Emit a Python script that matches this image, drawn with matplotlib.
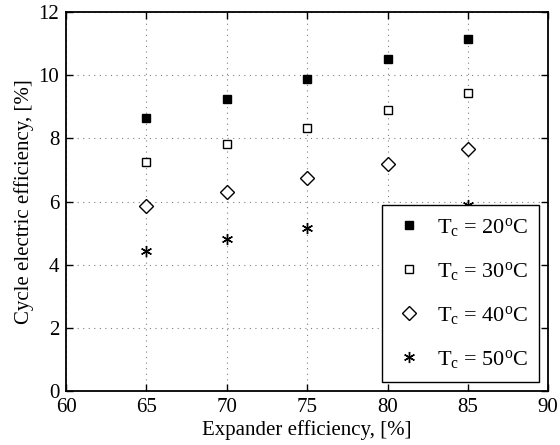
import matplotlib
matplotlib.use('Agg')
import matplotlib.pyplot as plt

plt.rcParams['font.family'] = ['Liberation Serif', 'DejaVu Serif']
plt.rcParams['mathtext.fontset'] = 'custom'
plt.rcParams['mathtext.rm'] = 'Liberation Serif'
plt.rcParams['mathtext.it'] = 'Liberation Serif:italic'

expander_eff = [65, 70, 75, 80, 85]
eff_20 = [8.63, 9.26, 9.89, 10.50, 11.16]
eff_30 = [7.26, 7.81, 8.34, 8.89, 9.43]
eff_40 = [5.86, 6.31, 6.76, 7.20, 7.68]
eff_50 = [4.45, 4.80, 5.16, 5.52, 5.88]
labels = [r'T$_\mathrm{c}$ = 20$^\mathrm{o}$C',
          r'T$_\mathrm{c}$ = 30$^\mathrm{o}$C',
          r'T$_\mathrm{c}$ = 40$^\mathrm{o}$C',
          r'T$_\mathrm{c}$ = 50$^\mathrm{o}$C']


def main():
    fig = plt.figure(figsize=(5.6, 4.45), dpi=100)
    ax = fig.add_axes([0.118, 0.121, 0.861, 0.852])

    ax.plot(expander_eff, eff_20, 's', color='black', markersize=6,
            linestyle='none', label=labels[0])
    ax.plot(expander_eff, eff_30, 's', markerfacecolor='white',
            markeredgecolor='black', markersize=6, linestyle='none',
            label=labels[1])
    ax.plot(expander_eff, eff_40, 'D', markerfacecolor='white',
            markeredgecolor='black', markersize=7, linestyle='none',
            label=labels[2])
    ax.plot(expander_eff, eff_50, marker=(6, 2, 0), color='black',
            markersize=8, linestyle='none', label=labels[3])

    ax.set_xlim(60, 90)
    ax.set_ylim(0, 12)
    ax.set_xticks(range(60, 91, 5))
    ax.set_yticks(range(0, 13, 2))
    ax.grid(True, linestyle=(0, (1, 4)), color='gray', linewidth=0.8)
    ax.tick_params(direction='in', top=True, right=True, labelsize=15,
                   width=1, length=5, pad=5)
    for s in ax.spines.values():
        s.set_linewidth(1.3)

    ax.set_xlabel('Expander efficiency, [%]', fontsize=15, labelpad=2)
    ax.set_ylabel('Cycle electric efficiency, [%]', fontsize=15, labelpad=3)

    leg = ax.legend(loc='lower right', fontsize=16, fancybox=False,
                    edgecolor='black', framealpha=1, borderaxespad=0.4,
                    labelspacing=0.95, handletextpad=0.5, handlelength=1.5,
                    borderpad=0.5)
    leg.get_frame().set_linewidth(1)

    fig.savefig('out.png', dpi=100)


if __name__ == "__main__":
    main()
